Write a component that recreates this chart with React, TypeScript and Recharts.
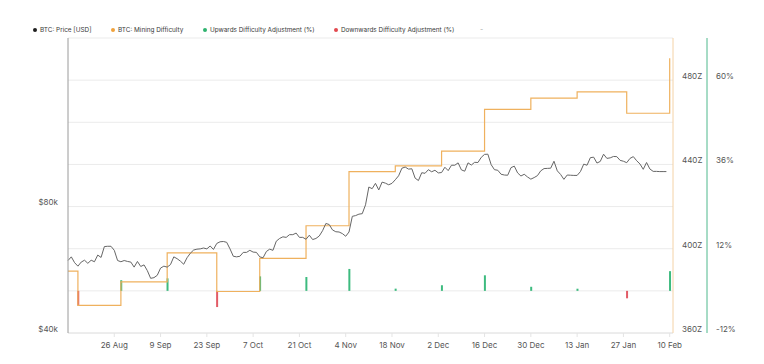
import React from "react";
import {
  ComposedChart,
  Line,
  Bar,
  XAxis,
  YAxis,
  CartesianGrid,
} from "recharts";

// day 0 = 12 Aug 2024, daily closes in thousands of USD (12 Aug .. 9 Feb)
const priceK = [
  // Aug 12-31
  59.4, 60.6, 58.7, 57.6, 58.9, 59.5, 58.5, 59.5, 59.0, 61.2, 60.4, 64.1, 64.2, 64.2, 62.8, 59.4, 59.0, 59.4, 59.1, 58.9,
  // Sep
  57.3, 59.1, 57.5, 58.0, 56.2, 53.9, 54.1, 54.8, 57.0, 57.6, 57.3, 58.1, 60.6, 60.0, 59.2, 58.2, 60.3, 61.8, 62.9, 63.2,
  63.3, 63.6, 63.3, 64.3, 63.1, 65.2, 65.8, 65.9, 65.6, 63.3,
  // Oct
  60.8, 60.6, 60.8, 62.1, 62.1, 62.8, 62.2, 62.1, 60.6, 60.3, 62.4, 63.2, 62.8, 66.0, 67.0, 67.6, 67.4, 68.4, 68.4, 69.0,
  67.4, 67.4, 66.7, 68.2, 66.6, 67.0, 67.9, 69.9, 72.7, 72.3, 70.2,
  // Nov
  69.5, 69.4, 68.8, 67.8, 69.4, 75.6, 75.9, 76.5, 76.7, 80.5, 88.7, 87.9, 90.5, 87.3, 91.1, 90.6, 89.8, 90.5, 92.3, 94.3,
  98.3, 98.9, 97.8, 98.0, 93.1, 91.9, 95.9, 95.6, 97.5, 96.4,
  // Dec
  97.2, 95.8, 96.0, 98.8, 97.0, 99.9, 99.9, 101.2, 97.4, 96.7, 101.2, 100.0, 101.5, 101.4, 104.3, 106.0, 106.1, 100.2,
  97.5, 97.2, 95.1, 94.7, 94.6, 98.6, 99.4, 95.8, 94.2, 95.1, 93.7, 92.6, 93.4,
  // Jan
  94.4, 96.9, 98.1, 98.2, 98.3, 102.1, 96.9, 95.0, 92.5, 94.7, 94.6, 94.5, 94.5, 96.5, 100.5, 99.9, 104.1, 104.4, 101.1,
  102.0, 106.1, 103.7, 104.0, 104.8, 104.7, 102.6, 102.1, 101.3, 103.7, 104.7, 102.4,
  // Feb 1-9
  100.6, 97.7, 101.4, 97.9, 96.6, 96.6, 96.5, 96.5, 96.5,
];

// difficulty levels (Z hashes) and the adjustment that set them
const difficultyDays = [0, 3, 16, 30, 45, 58, 72, 85, 99, 113, 126, 140, 154, 169, 182];
const difficultyZ = [389.4, 373.1, 384.3, 398.0, 379.7, 395.4, 410.9, 436.6, 439.3, 446.3, 466.1, 471.5, 474.4, 464.3, 490.4];
const adjustmentPct: (number | null)[] = [null, -4.19, 3.03, 3.56, -4.61, 4.13, 3.94, 6.24, 0.63, 1.6, 4.43, 1.16, 0.61, -2.12, 5.61];

const tickDays = [14, 28, 42, 56, 70, 84, 98, 112, 126, 140, 154, 168, 182];
const tickLabels = ["26 Aug", "9 Sep", "23 Sep", "7 Oct", "21 Oct", "4 Nov", "18 Nov", "2 Dec", "16 Dec", "30 Dec", "13 Jan", "27 Jan", "10 Feb"];

const priceTicks = [40, 80];
const difficultyTicks = [360, 380, 400, 420, 440, 460, 480, 500];
const pctTicks = [-12, 12, 36, 60];

const data = Array.from({ length: 183 }, (_, day) => {
  const i = difficultyDays.indexOf(day);
  const pct = i >= 0 ? adjustmentPct[i] : null;
  return {
    day,
    price: day < priceK.length ? priceK[day] : null,
    difficulty: i >= 0 ? difficultyZ[i] : null,
    up: pct != null && pct > 0 ? pct : null,
    down: pct != null && pct < 0 ? pct : null,
  };
});

const tickStyle = { fontSize: 8, fill: "#555", fontFamily: "Inter" };

const legend = [
  { left: 33, color: "#1f1f1f", label: "BTC: Price [USD]" },
  { left: 111, color: "#f0a23c", label: "BTC: Mining Difficulty" },
  { left: 203, color: "#2fb36f", label: "Upwards Difficulty Adjustment (%)" },
  { left: 334, color: "#e2484f", label: "Downwards Difficulty Adjustment (%)" },
];

export default function App() {
  return (
    <div style={{ position: "absolute", left: 0, top: 0, width: 764, height: 364, background: "#fff", fontFamily: "Inter" }}>
      {legend.map((l) => (
        <div
          key={l.label}
          style={{ position: "absolute", left: l.left, top: 26, display: "flex", alignItems: "center", fontSize: 6.4, color: "#3a3a3a", whiteSpace: "nowrap" }}
        >
          <span style={{ width: 4, height: 4, borderRadius: 2, background: l.color, marginRight: 3 }} />
          {l.label}
        </div>
      ))}
      <div style={{ position: "absolute", left: 480, top: 25, fontSize: 7, color: "#aaa" }}>-</div>
      <ComposedChart
        width={764}
        height={364}
        data={data}
        stackOffset="sign"
        margin={{ top: 38, right: 17, bottom: 0, left: 0 }}
      >
        <CartesianGrid vertical={false} yAxisId="diff" stroke="#ebebeb" />
        <XAxis
          dataKey="day"
          type="number"
          domain={[0, 183]}
          ticks={tickDays}
          tickFormatter={(v) => tickLabels[tickDays.indexOf(v)] ?? ""}
          height={31}
          tick={tickStyle}
          tickSize={4}
          tickMargin={5}
          axisLine={{ stroke: "#e4e4e4" }}
          tickLine={{ stroke: "#e4e4e4" }}
        />
        <YAxis
          yAxisId="price"
          orientation="left"
          scale="log"
          domain={[40, 200]}
          ticks={priceTicks}
          tickFormatter={(v) => `$${v}k`}
          width={68}
          tick={{ ...tickStyle, dy: -4 }}
          tickSize={0}
          tickMargin={10}
          axisLine={{ stroke: "#9a9a9a" }}
          tickLine={false}
        />
        <YAxis
          yAxisId="diff"
          orientation="right"
          domain={[360, 500]}
          ticks={difficultyTicks}
          tickFormatter={(v) => (v % 40 === 0 && v < 500 ? `${v}Z` : "")}
          width={34}
          tick={{ ...tickStyle, dy: -4 }}
          tickSize={0}
          tickMargin={9}
          axisLine={{ stroke: "#f4d2a6" }}
          tickLine={false}
        />
        <YAxis
          yAxisId="pct"
          orientation="right"
          domain={[-12, 72]}
          ticks={pctTicks}
          tickFormatter={(v) => `${v}%`}
          width={40}
          tick={{ ...tickStyle, dy: -4 }}
          tickSize={0}
          tickMargin={9}
          axisLine={{ stroke: "#4fb88c" }}
          tickLine={false}
        />
        <Bar yAxisId="pct" dataKey="up" stackId="adj" fill="#3dbb7f" barSize={2} isAnimationActive={false} />
        <Bar yAxisId="pct" dataKey="down" stackId="adj" fill="#e25b66" barSize={2} isAnimationActive={false} />
        <Line
          yAxisId="diff"
          dataKey="difficulty"
          type="stepAfter"
          connectNulls
          stroke="#efb15e"
          strokeWidth={1.2}
          dot={false}
          isAnimationActive={false}
        />
        <Line
          yAxisId="price"
          dataKey="price"
          type="linear"
          stroke="#666"
          strokeWidth={1}
          dot={false}
          isAnimationActive={false}
        />
      </ComposedChart>
    </div>
  );
}
